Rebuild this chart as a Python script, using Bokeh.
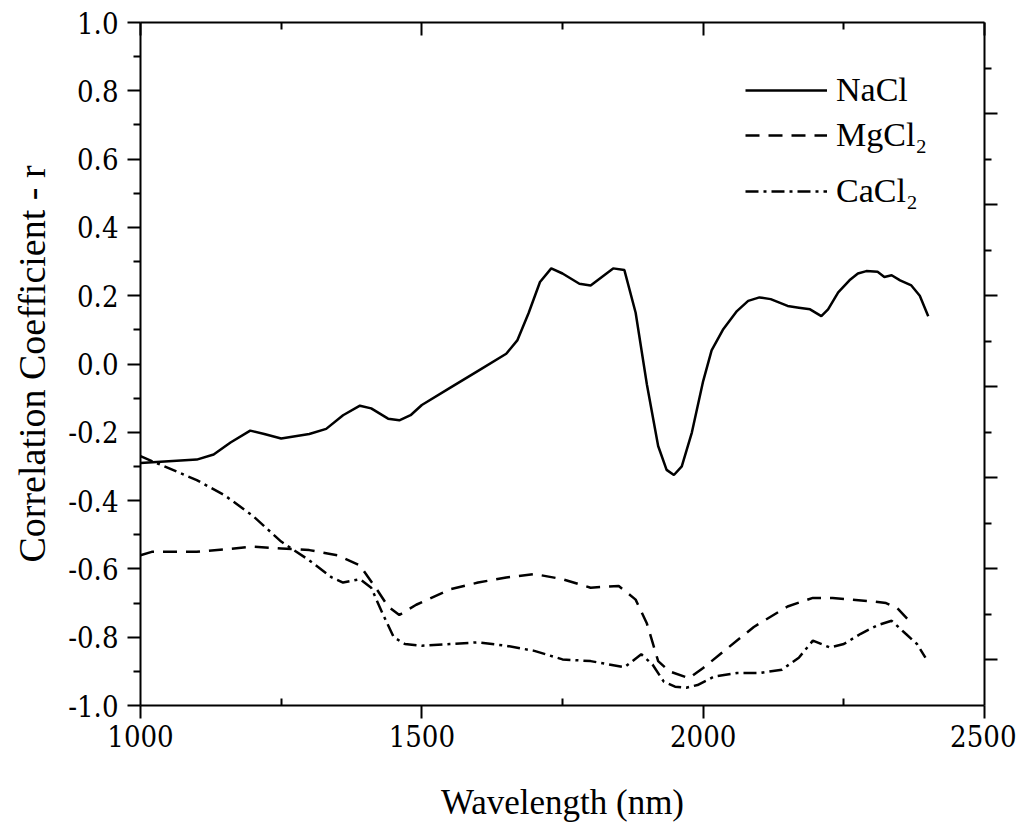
from bokeh.plotting import figure
from bokeh.models import (LinearAxis, Range1d, FixedTicker, CustomJSTickFormatter,
                          Legend, LegendItem)
from bokeh.embed import file_html
from bokeh.resources import INLINE

# ---------------- data ----------------
nacl_wl = [1000, 1050, 1100, 1130, 1160, 1195, 1220, 1250, 1300, 1330, 1360, 1390,
           1410, 1440, 1460, 1480, 1500, 1550, 1600, 1650, 1670, 1690, 1710, 1730,
           1750, 1780, 1800, 1820, 1840, 1860, 1880, 1900, 1920, 1935, 1948, 1962,
           1980, 2000, 2015, 2035, 2060, 2080, 2100, 2120, 2150, 2170, 2190, 2210,
           2222, 2240, 2260, 2275, 2290, 2310, 2322, 2335, 2350, 2370, 2385, 2400]
nacl_r = [-0.29, -0.285, -0.28, -0.265, -0.23, -0.195, -0.205, -0.218, -0.205, -0.19,
          -0.15, -0.122, -0.13, -0.16, -0.165, -0.15, -0.12, -0.07, -0.02, 0.03, 0.07,
          0.15, 0.24, 0.28, 0.265, 0.235, 0.23, 0.255, 0.28, 0.275, 0.15, -0.06, -0.24,
          -0.31, -0.325, -0.30, -0.20, -0.05, 0.04, 0.10, 0.155, 0.185, 0.195, 0.19,
          0.17, 0.165, 0.16, 0.14, 0.16, 0.21, 0.245, 0.265, 0.272, 0.27, 0.255, 0.26,
          0.245, 0.23, 0.20, 0.14]

mgcl2_wl = [1000, 1020, 1100, 1200, 1250, 1300, 1350, 1390, 1420, 1440, 1460, 1490,
            1550, 1600, 1650, 1700, 1750, 1800, 1850, 1880, 1900, 1920, 1940, 1975,
            2000, 2030, 2090, 2150, 2195, 2230, 2265, 2300, 2325, 2345, 2365]
mgcl2_r = [-0.56, -0.55, -0.55, -0.535, -0.54, -0.545, -0.56, -0.59, -0.66, -0.71,
           -0.735, -0.705, -0.66, -0.64, -0.625, -0.615, -0.63, -0.655, -0.65, -0.69,
           -0.76, -0.87, -0.90, -0.92, -0.89, -0.85, -0.77, -0.71, -0.685, -0.685,
           -0.69, -0.695, -0.70, -0.715, -0.75]

cacl2_wl = [1000, 1050, 1100, 1150, 1200, 1250, 1300, 1340, 1360, 1390, 1410, 1430,
            1450, 1470, 1500, 1550, 1600, 1650, 1700, 1750, 1800, 1860, 1890, 1910,
            1930, 1950, 1970, 1990, 2020, 2060, 2100, 2140, 2170, 2195, 2225, 2250,
            2280, 2310, 2335, 2360, 2380, 2395]
cacl2_r = [-0.27, -0.305, -0.34, -0.385, -0.445, -0.52, -0.575, -0.625, -0.64, -0.63,
           -0.655, -0.73, -0.80, -0.82, -0.825, -0.82, -0.815, -0.825, -0.84, -0.865,
           -0.87, -0.888, -0.85, -0.88, -0.93, -0.945, -0.948, -0.94, -0.915, -0.905,
           -0.905, -0.895, -0.86, -0.81, -0.83, -0.82, -0.79, -0.765, -0.752, -0.79,
           -0.82, -0.86]

series_names = ["NaCl", "MgCl\u2082", "CaCl\u2082"]
x_ticks = [1000, 1500, 2000, 2500]
x_minor = [1250, 1750, 2250]
y_ticks = [-1.0, -0.8, -0.6, -0.4, -0.2, 0.0, 0.2, 0.4, 0.6, 0.8, 1.0]
y_minor = [-0.9, -0.7, -0.5, -0.3, -0.1, 0.1, 0.3, 0.5, 0.7, 0.9]
right_ticks = [0.5, 1.5, 2.5, 3.5, 4.5, 5.5, 6.5]
right_minor = [1, 2, 3, 4, 5, 6, 7]

FONT = "Liberation Serif"
TICK_FONT = "DejaVu Serif Condensed, DejaVu Serif"

p = figure(width=1016, height=824, x_range=Range1d(1000, 2500), y_range=Range1d(-1, 1),
           output_backend="svg", toolbar_location=None,
           min_border_left=140, min_border_right=32, min_border_top=22,
           min_border_bottom=116)
p.grid.visible = False
p.outline_line_color = None
p.background_fill_color = "white"
p.border_fill_color = "white"

blank = CustomJSTickFormatter(code="return '';")

def style(ax):
    ax.axis_line_width = 2
    ax.axis_line_color = "black"
    ax.major_tick_line_width = 2
    ax.minor_tick_line_width = 2
    ax.major_tick_line_color = "black"
    ax.minor_tick_line_color = "black"
    ax.major_label_text_font = TICK_FONT
    ax.major_label_text_font_style = "normal"
    ax.major_label_text_font_size = "29px"
    ax.major_label_text_color = "black"
    ax.axis_label_text_font = FONT
    ax.axis_label_text_font_style = "normal"
    ax.axis_label_text_color = "black"

xa = p.xaxis[0]
style(xa)
xa.ticker = FixedTicker(ticks=x_ticks, minor_ticks=x_minor)
xa.major_tick_out = 13
xa.major_tick_in = 0
xa.minor_tick_in = 7
xa.minor_tick_out = 0
xa.major_label_standoff = 6
xa.axis_label = "Wavelength (nm)"
xa.axis_label_text_font_size = "35px"
xa.axis_label_standoff = 33

ya = p.yaxis[0]
style(ya)
ya.ticker = FixedTicker(ticks=y_ticks, minor_ticks=y_minor)
ya.major_tick_out = 13
ya.major_tick_in = 0
ya.minor_tick_out = 7
ya.minor_tick_in = 0
ya.major_label_standoff = 9
ya.formatter = CustomJSTickFormatter(code="return tick.toFixed(1);")
ya.axis_label = "Correlation Coefficient - r"
ya.axis_label_text_font_size = "38px"
ya.axis_label_standoff = 12

top = LinearAxis(ticker=FixedTicker(ticks=x_ticks, minor_ticks=x_minor), formatter=blank)
style(top)
top.major_label_text_font_size = "0px"
top.major_label_standoff = 0
top.major_tick_in = 13
top.major_tick_out = 0
top.minor_tick_in = 7
top.minor_tick_out = 0
p.add_layout(top, "above")

p.extra_y_ranges = {"right": Range1d(0, 7.5)}
right = LinearAxis(y_range_name="right",
                   ticker=FixedTicker(ticks=right_ticks, minor_ticks=right_minor),
                   formatter=blank)
style(right)
right.major_label_text_font_size = "0px"
right.major_label_standoff = 0
right.major_tick_out = 13
right.major_tick_in = 0
right.minor_tick_out = 7
right.minor_tick_in = 0
p.add_layout(right, "right")

r1 = p.line(nacl_wl, nacl_r, line_color="black", line_width=2.5)
r2 = p.line(mgcl2_wl, mgcl2_r, line_color="black", line_width=2.5, line_dash="14 9")
r3 = p.line(cacl2_wl, cacl2_r, line_color="black", line_width=2.5, line_dash="13 5 3 5")

# one single-item legend per series so each row sits where the reference has it
legend_rows = [(series_names[0], r1, 589), (series_names[1], r2, 544), (series_names[2], r3, 488)]
for name, rend, ybot in legend_rows:
    lg = Legend(items=[LegendItem(label=name, renderers=[rend])], location=(605, ybot))
    lg.border_line_color = None
    lg.background_fill_alpha = 0
    lg.label_text_font = FONT
    lg.label_text_font_size = "34px"
    lg.label_text_color = "black"
    lg.glyph_width = 82
    lg.glyph_height = 52
    lg.label_height = 52
    lg.padding = 0
    lg.margin = 0
    lg.label_standoff = 9
    p.add_layout(lg)

open("out.html", "w").write(file_html(p, INLINE))
